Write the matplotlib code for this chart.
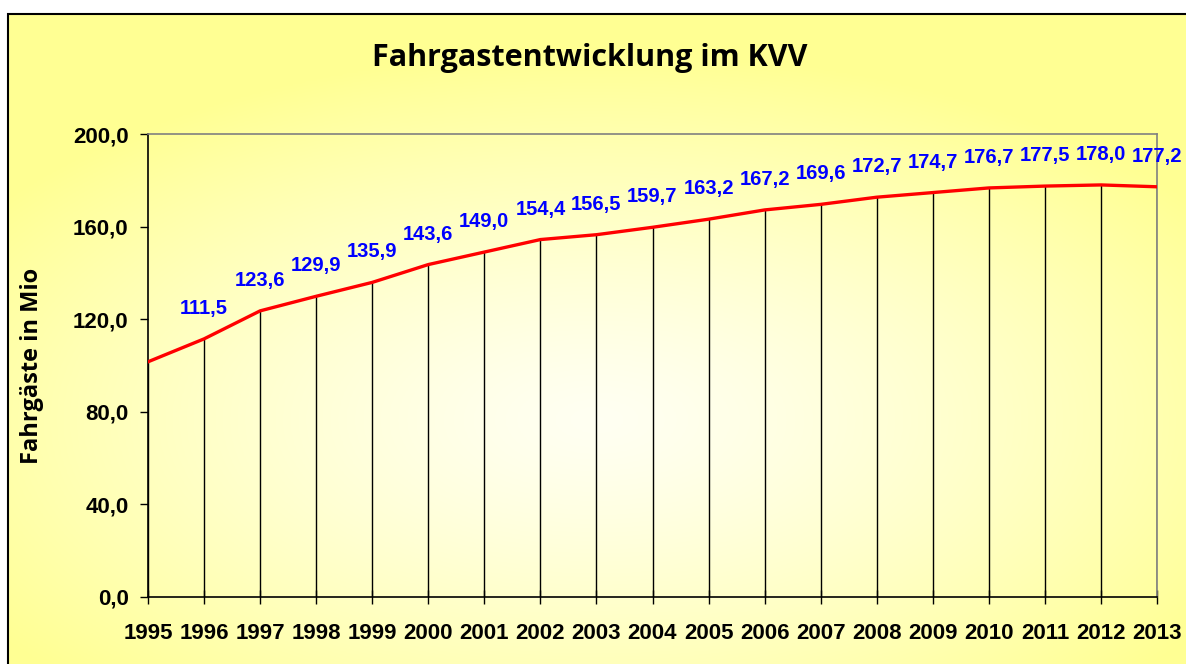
import numpy as np
import matplotlib.pyplot as plt
from matplotlib.patches import Rectangle

# Fahrgastzahlen im KVV (Mio)
jahre = list(range(1995, 2014))
fahrgaeste = [101.6, 111.5, 123.6, 129.9, 135.9, 143.6, 149.0, 154.4, 156.5,
              159.7, 163.2, 167.2, 169.6, 172.7, 174.7, 176.7, 177.5, 178.0, 177.2]
y_ticks = [0, 40, 80, 120, 160, 200]

W, H = 1186, 664
fig = plt.figure(figsize=(W / 100, H / 100), dpi=100)
fig.patch.set_facecolor('white')

# Hintergrund mit Farbverlauf (Diagrammfläche)
bg = fig.add_axes([8 / W, 0, 1 - 8 / W, 1 - 14 / H])
gx, gy = np.meshgrid(np.linspace(-1, 1, 400), np.linspace(-1, 1, 250))
r = np.sqrt((gx * 1.0) ** 2 + ((gy + 0.25) * 1.1) ** 2)
r = np.clip(r / 1.25, 0, 1)
c_in = np.array([1.0, 1.0, 0.95])
c_out = np.array([1.0, 1.0, 0.58])
img = c_in + (c_out - c_in) * r[..., None] ** 1.3
bg.imshow(img, extent=[0, 1, 0, 1], aspect='auto', origin='lower')
bg.add_patch(Rectangle((0, -0.05), 1.2, 1.05, fill=False, edgecolor='black',
                       linewidth=1.5, transform=bg.transAxes, clip_on=False))
bg.set_xlim(0, 1)
bg.set_ylim(0, 1)
bg.axis('off')

ax = fig.add_axes([148 / W, 1 - 597 / H, (1157 - 148) / W, (597 - 134) / H])
ax.patch.set_alpha(0)

ax.vlines(jahre, 0, fahrgaeste, colors='black', linewidth=1)
ax.plot(jahre, fahrgaeste, color='#ff0000', linewidth=2.4, zorder=3)

for j, v in zip(jahre[1:], fahrgaeste[1:]):
    ax.annotate(f'{v:.1f}'.replace('.', ','), (j, v), xytext=(0, 22),
                textcoords='offset points', ha='center', va='center',
                color='#0000ff', fontsize=14.5, fontweight='bold',
                family='Liberation Sans', clip_on=False)

ax.set_xlim(1995, 2013)
ax.set_ylim(0, 200)
ax.set_yticks(y_ticks)
ax.set_yticklabels([f'{t:.1f}'.replace('.', ',') for t in y_ticks])
ax.set_xticks(jahre)
ax.tick_params(axis='y', direction='out', length=6, width=1, pad=8)
ax.tick_params(axis='x', direction='inout', length=10, width=1, pad=14)
for lab in ax.get_xticklabels() + ax.get_yticklabels():
    lab.set_family('Liberation Sans')
    lab.set_fontweight('bold')
    lab.set_fontsize(16)

ax.spines['top'].set_color('#808080')
ax.spines['right'].set_color('#808080')
ax.spines['left'].set_color('black')
ax.spines['bottom'].set_color('black')
for s in ax.spines.values():
    s.set_linewidth(1.2)

ax.set_ylabel('Fahrgäste in Mio', family='Open Sans', fontweight='bold',
              fontsize=17)
ax.yaxis.set_label_coords(-104 / (1157 - 148), 0.5)

fig.text(590 / W, 1 - 58 / H, 'Fahrgastentwicklung im KVV', ha='center',
         va='center', family='Open Sans', fontweight='bold', fontsize=22)

fig.savefig('out.png', dpi=100)
